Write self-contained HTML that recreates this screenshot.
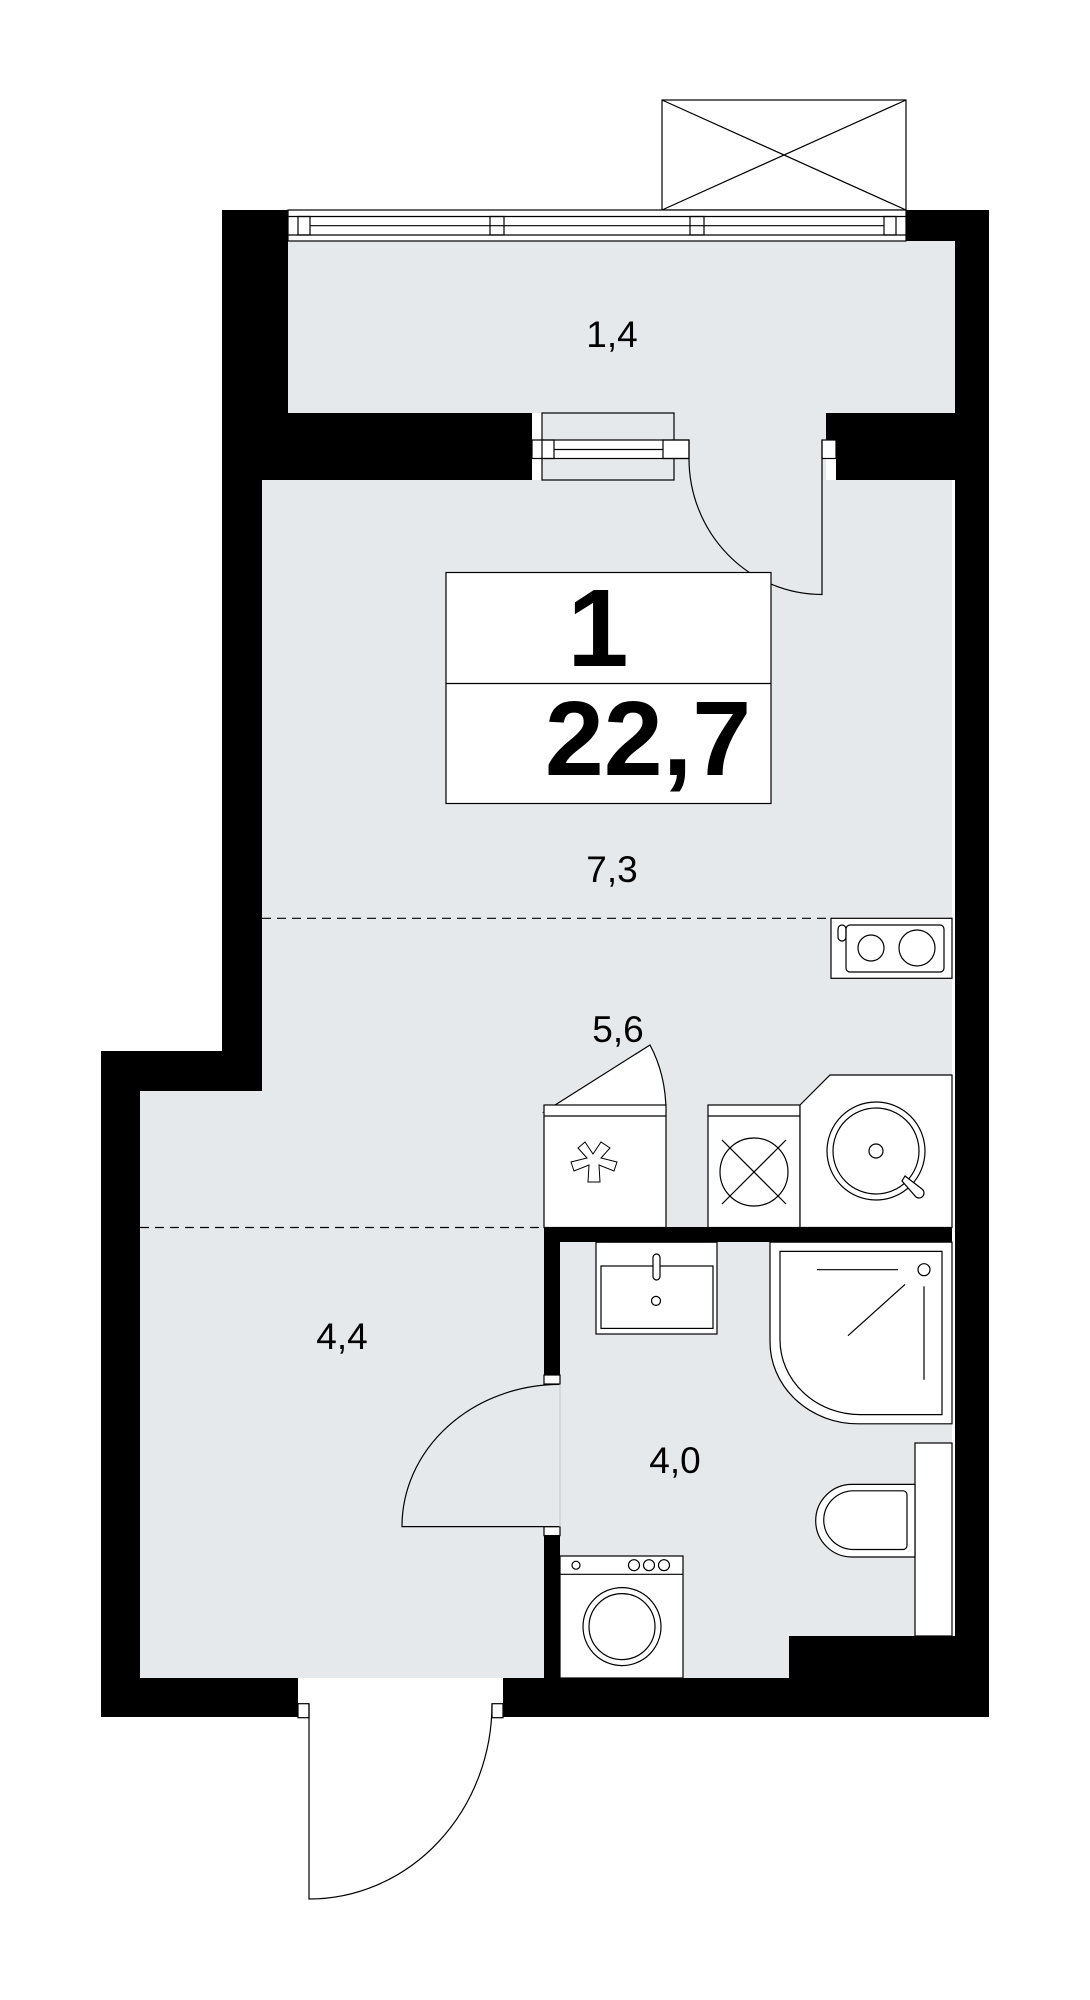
<!DOCTYPE html>
<html><head><meta charset="utf-8"><style>
html,body{margin:0;padding:0;background:#fff;width:1090px;height:2000px;overflow:hidden}
svg{display:block}
text{font-family:"Liberation Sans","DejaVu Sans",sans-serif}
</style></head><body>
<svg width="1090" height="2000" viewBox="0 0 1090 2000" xmlns="http://www.w3.org/2000/svg">
<g fill="#e6e9ec" stroke="none">
<rect x="288" y="241" width="667" height="172"/>
<rect x="262" y="480" width="690" height="1198"/>
<rect x="140" y="1091" width="130" height="587"/>
<rect x="674" y="412" width="152" height="74"/>
</g>
<g fill="#000">
<rect x="222" y="210" width="66" height="270"/>
<rect x="906" y="210" width="83" height="31"/>
<rect x="955" y="210" width="34" height="1507"/>
<rect x="222" y="413" width="310" height="67"/>
<rect x="826" y="413" width="129" height="27"/>
<rect x="836" y="413" width="119" height="67"/>
<rect x="222" y="480" width="40" height="611"/>
<rect x="101" y="1051" width="161" height="40"/>
<rect x="101" y="1051" width="39" height="666"/>
<rect x="101" y="1678" width="197" height="39"/>
<rect x="503" y="1678" width="486" height="39"/>
<rect x="789" y="1636" width="166" height="42"/>
<rect x="544" y="1227" width="408" height="15"/>
<rect x="544" y="1227" width="16" height="156"/>
<rect x="544" y="1529" width="16" height="149"/>
</g>
<g fill="none" stroke="#000" stroke-width="1.2">
<rect x="662" y="100" width="244" height="110"/>
<line x1="662" y1="210" x2="906" y2="100"/><line x1="662" y1="100" x2="906" y2="210"/>
<rect x="288" y="210" width="618" height="31" fill="#fff"/>
<line x1="288" y1="216.5" x2="906" y2="216.5"/><line x1="288" y1="235" x2="906" y2="235"/>
<line x1="310" y1="225.7" x2="884" y2="225.7"/>
<rect x="298" y="216.5" width="12" height="18.5"/><rect x="490" y="216.5" width="14" height="18.5"/>
<rect x="690" y="216.5" width="14" height="18.5"/><rect x="884" y="216.5" width="12" height="18.5"/>
<rect x="542" y="413" width="132" height="67" fill="#e6e9ec"/>
<rect x="532" y="440" width="157" height="18.5" fill="#fff"/>
<line x1="554" y1="449.5" x2="663" y2="449.5"/>
<rect x="542" y="440" width="12" height="18.5"/><rect x="663" y="440" width="26" height="18.5"/>
<rect x="822" y="440" width="14" height="18.5" fill="#fff"/>
<path d="M689 458.7 A133 136 0 0 0 822 594.5 L822 440"/>
<rect x="446" y="572.5" width="325" height="231" fill="#fff"/>
<line x1="446" y1="683.5" x2="771" y2="683.5"/>
<line x1="262" y1="918.3" x2="831" y2="918.3" stroke-dasharray="9,6"/>
<line x1="140" y1="1227.5" x2="544" y2="1227.5" stroke-dasharray="9,6"/>
<rect x="831" y="918.3" width="121" height="60" fill="#fff"/>
<rect x="846" y="925" width="98" height="47" rx="4"/>
<rect x="838" y="925" width="8" height="16" rx="4"/>
<circle cx="871" cy="948" r="13"/><circle cx="917" cy="948" r="18"/>
<path d="M544 1112 L650 1045 Q666 1075 666 1112 Z" fill="#fff"/>
<rect x="544" y="1105" width="122" height="122.5" fill="#fff"/>
<line x1="544" y1="1116" x2="666" y2="1116"/>
<path d="M585 1142 l8 12 l8 -12 l9 6 l-9 10 l16 4 l-3 9 l-15 -6 l1 17 h-12 l1 -17 l-15 6 l-3 -9 l16 -4 l-9 -10 Z" stroke-width="1"/>
<rect x="708" y="1105" width="92" height="122.5" fill="#fff"/>
<line x1="708" y1="1116" x2="800" y2="1116"/>
<circle cx="754" cy="1172" r="34"/>
<line x1="722" y1="1140" x2="786" y2="1204"/><line x1="786" y1="1140" x2="722" y2="1204"/>
<path d="M800 1105 L830 1075 L952 1075 L952 1227.5 L800 1227.5 Z" fill="#fff"/>
<circle cx="876" cy="1151" r="49"/><circle cx="876" cy="1151" r="43"/>
<circle cx="876" cy="1151" r="7"/>
<path d="M905 1176 l17 13 a5 5 0 0 1 -6 8 l-14 -16 Z" fill="#fff"/>
<rect x="596" y="1242.2" width="121" height="91.8" fill="#fff"/>
<rect x="601" y="1266" width="112" height="62.4"/>
<rect x="653" y="1254" width="7" height="26" rx="3.5" fill="#fff"/>
<circle cx="656" cy="1300.9" r="4.5"/>
<path d="M770 1242.2 L952 1242.2 L952 1423.8 L858 1423.8 A88 82 0 0 1 770 1341.3 Z" fill="#fff"/>
<path d="M780 1251.4 L942 1251.4 L942 1414.6 L860 1414.6 A80 75 0 0 1 780 1339.5 Z"/>
<line x1="817" y1="1269.7" x2="898" y2="1269.7"/>
<circle cx="924" cy="1269.7" r="6"/>
<line x1="924" y1="1286.3" x2="924" y2="1379.8"/>
<line x1="905" y1="1284.4" x2="848" y2="1335.7"/>
<rect x="915" y="1443" width="37" height="193" fill="#fff"/>
<path d="M915 1484.4 L852 1484.4 A36 36 0 0 0 852 1557 L915 1557 Z" fill="#fff"/>
<path d="M903 1490.8 A4 4 0 0 1 907 1494.8 L907 1545.5 A4 4 0 0 1 903 1549.5 L852 1549.5 A30 29.4 0 0 1 852 1490.8 Z"/>
<rect x="560" y="1556" width="123" height="122" fill="#fff"/>
<line x1="560" y1="1574.3" x2="683" y2="1574.3"/>
<circle cx="576" cy="1565.2" r="4"/>
<circle cx="634" cy="1565.2" r="5.5"/><circle cx="649" cy="1565.2" r="5.5"/><circle cx="664" cy="1565.2" r="5.5"/>
<circle cx="622" cy="1626.6" r="39"/><circle cx="622" cy="1626.6" r="33"/>
<rect x="544" y="1375" width="16" height="9" fill="#fff"/>
<rect x="544" y="1526.6" width="16" height="9" fill="#fff"/>
<path d="M560 1384.4 A158 142 0 0 0 402 1526.6 L560 1526.6"/>
<line x1="560" y1="1384.4" x2="560" y2="1526.6" stroke="#ccc"/>
<rect x="298" y="1703.7" width="11" height="14" fill="#fff"/>
<rect x="492" y="1703.7" width="11" height="14" fill="#fff"/>
<path d="M309 1703.7 L309 1899 A183 195 0 0 0 492 1703.7"/>
</g>
<g fill="#000" text-anchor="middle">
<text x="612" y="337" font-size="37" dominant-baseline="middle">1,4</text>
<text x="612" y="872" font-size="37" dominant-baseline="middle">7,3</text>
<text x="618" y="1032" font-size="37" dominant-baseline="middle">5,6</text>
<text x="342" y="1339" font-size="37" dominant-baseline="middle">4,4</text>
<text x="675" y="1463" font-size="37" dominant-baseline="middle">4,0</text>
<text x="598" y="666" font-size="110" font-weight="bold">1</text>
<text x="648" y="775" font-size="106" font-weight="bold">22,7</text>
</g>
</svg>
</body></html>
